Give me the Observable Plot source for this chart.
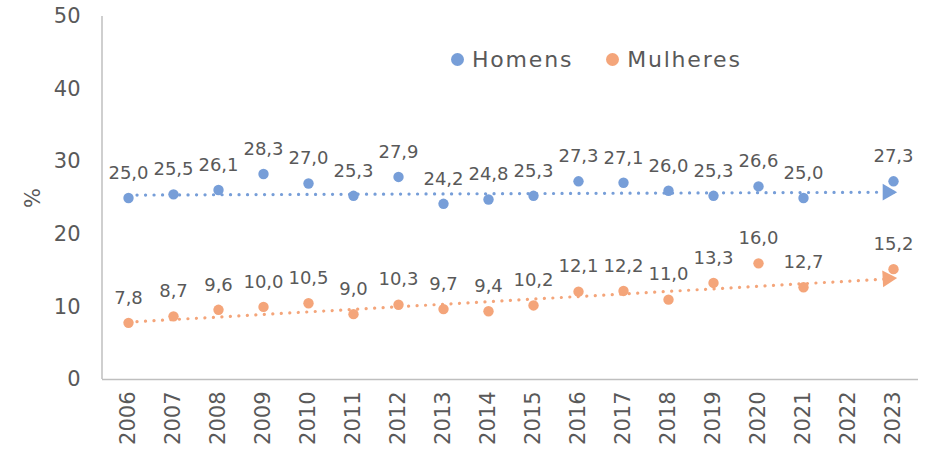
<!DOCTYPE html>
<html>
<head>
<meta charset="utf-8">
<script src="https://cdn.jsdelivr.net/npm/d3@7"></script>
<script src="https://cdn.jsdelivr.net/npm/@observablehq/plot@0.6"></script>
<style>
  html, body { margin: 0; padding: 0; background: #fff; }
  #wrap { position: relative; width: 940px; height: 449px; font-family: "DejaVu Sans", sans-serif; }
  #legend { position: absolute; top: 47px; left: 451px; display: flex; align-items: center; font-size: 22px; color: #595959; letter-spacing: 1.8px; }
  #legend span.item { display: flex; align-items: center; margin-right: 33px; }
  #legend i { display: inline-block; width: 13px; height: 13px; border-radius: 50%; margin-right: 8px; }
</style>
</head>
<body>
<div id="wrap"><div id="legend"></div></div>
<script>
const years = ["2006","2007","2008","2009","2010","2011","2012","2013","2014","2015","2016","2017","2018","2019","2020","2021","2022","2023"];
const homens   = [25.0, 25.5, 26.1, 28.3, 27.0, 25.3, 27.9, 24.2, 24.8, 25.3, 27.3, 27.1, 26.0, 25.3, 26.6, 25.0, null, 27.3];
const mulheres = [7.8, 8.7, 9.6, 10.0, 10.5, 9.0, 10.3, 9.7, 9.4, 10.2, 12.1, 12.2, 11.0, 13.3, 16.0, 12.7, null, 15.2];
// trend line endpoints (2006 -> 2023)
const trendHomens = [25.4, 25.8];
const trendMulheres = [7.9, 13.9];
const seriesNames = ["Homens", "Mulheres"];
const seriesColors = ["#779ED8", "#F4A57A"];

const pts = [];
years.forEach((yr, i) => {
  if (homens[i] != null) pts.push({year: yr, value: homens[i], s: "Homens"});
  if (mulheres[i] != null) pts.push({year: yr, value: mulheres[i], s: "Mulheres"});
});
const first = years[0], last = years[years.length - 1];
const trends = [
  {year: first, value: trendHomens[0], s: "Homens"},
  {year: last, value: trendHomens[1], s: "Homens"},
  {year: first, value: trendMulheres[0], s: "Mulheres"},
  {year: last, value: trendMulheres[1], s: "Mulheres"}
];
const ends = trends.filter(d => d.year === last);
const fmt = v => v.toFixed(1).replace(".", ",");
const color = {domain: seriesNames, range: seriesColors};
const txt = "#595959";

const chart = Plot.plot({
  width: 940, height: 449,
  marginLeft: 102, marginRight: 22, marginTop: 16, marginBottom: 70,
  style: {fontFamily: "DejaVu Sans, sans-serif", color: txt, background: "transparent"},
  x: {type: "point", domain: years, padding: 0.5},
  y: {domain: [0, 50]},
  color,
  marks: [
    Plot.axisY({ticks: [0,10,20,30,40,50], tickSize: 0, tickPadding: 22, fontSize: 21, fill: txt,
      label: "%", labelAnchor: "center", labelOffset: 77, labelArrow: "none"}),
    Plot.axisX({tickSize: 0, tickPadding: 12, tickRotate: -90, fontSize: 21, fill: txt, label: null}),
    Plot.ruleY([0], {stroke: "#BFBFBF", strokeWidth: 1.5}),
    Plot.line(trends, {x: "year", y: "value", z: "s", stroke: "s", strokeWidth: 3.2,
      strokeDasharray: "0.1,8.4", strokeLinecap: "round"}),
    Plot.dot(ends, {x: "year", y: "value", fill: "s", symbol: "triangle", r: 6.2, dx: -6,
      rotate: d => d.s === "Homens" ? 90 : 87}),
    Plot.dot(pts, {x: "year", y: "value", fill: "s", r: 5.2}),
    Plot.text(pts, {x: "year", y: "value", text: d => fmt(d.value), dy: -25, fontSize: 18, fill: txt})
  ]
});
const wrap = document.getElementById("wrap");
wrap.insertBefore(chart, wrap.firstChild);

// left axis line, positioned with Plot's y scale
const ys = chart.scale("y");
d3.select(chart).append("line")
  .attr("x1", 102).attr("x2", 102)
  .attr("y1", ys.apply(50)).attr("y2", ys.apply(0))
  .attr("stroke", "#BFBFBF").attr("stroke-width", 1.5);

const legend = document.getElementById("legend");
seriesNames.forEach((n, i) => {
  const s = document.createElement("span");
  s.className = "item";
  s.innerHTML = `<i style="background:${seriesColors[i]}"></i>${n}`;
  legend.appendChild(s);
});
</script>
</body>
</html>
